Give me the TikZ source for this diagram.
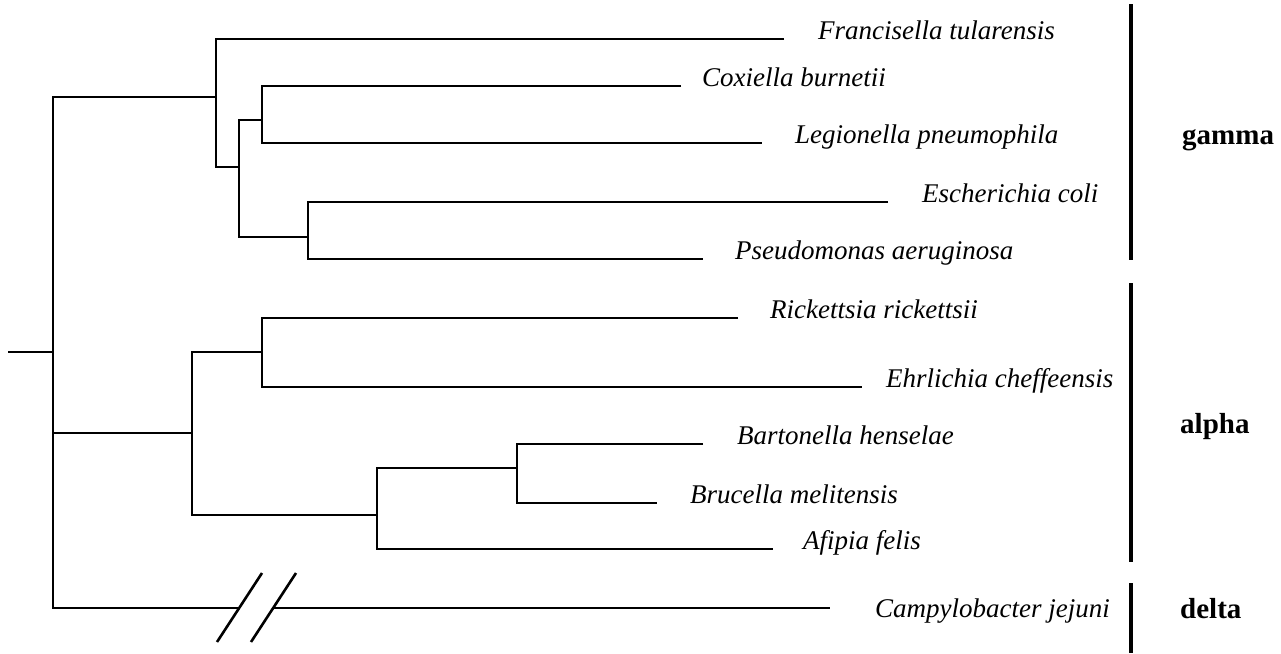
\documentclass[tikz,border=0pt]{standalone}
\usepackage{fontspec}
\setmainfont{Liberation Serif}
\begin{document}
\begin{tikzpicture}[x=1pt,y=-1pt,
  br/.style={line width=2.6pt, line join=miter},
  bar/.style={line width=4.2pt},
  lab/.style={anchor=base west, inner sep=0pt, font=\fontsize{27}{30}\selectfont\itshape},
  grp/.style={anchor=base west, inner sep=0pt, font=\fontsize{29}{32}\selectfont\bfseries}]
\useasboundingbox (0,0) rectangle (1281,653);
% internal nodes
\coordinate (Rstub) at (8,352);
\coordinate (R) at (53,352);
\coordinate (G) at (216,97);
\coordinate (G1) at (239,167);
\coordinate (G2) at (262,120);
\coordinate (G3) at (308,237);
\coordinate (A) at (192,433);
\coordinate (A1) at (262,352);
\coordinate (A2) at (377,515);
\coordinate (A3) at (517,468);
% tips
\coordinate (tFr) at (784,39);
\coordinate (tCo) at (681,86);
\coordinate (tLe) at (762,143);
\coordinate (tEc) at (888,202);
\coordinate (tPs) at (703,259);
\coordinate (tRi) at (738,318);
\coordinate (tEh) at (862,387);
\coordinate (tBa) at (703,444);
\coordinate (tBr) at (657,503);
\coordinate (tAf) at (773,549);
\coordinate (tCa) at (830,608);
\coordinate (brk1) at (239,608);
\coordinate (brk2) at (273,608);
\coordinate (s1a) at (217,642);
\coordinate (s1b) at (262,573);
\coordinate (s2a) at (251,642);
\coordinate (s2b) at (296,573);
% tree
\draw[br] (Rstub) -- (R);
\draw[br] (G) -- (G -| R) -- (R |- tCa) -- (brk1);
\draw[br] (R |- A) -- (A);
\draw[br] (tFr) -- (tFr -| G) -- (G1 -| G) -- (G1);
\draw[br] (G2) -- (G2 -| G1) -- (G3 -| G1) -- (G3);
\draw[br] (tCo) -- (tCo -| G2) -- (tLe -| G2) -- (tLe);
\draw[br] (tEc) -- (tEc -| G3) -- (tPs -| G3) -- (tPs);
\draw[br] (A1) -- (A1 -| A) -- (A2 -| A) -- (A2);
\draw[br] (tRi) -- (tRi -| A1) -- (tEh -| A1) -- (tEh);
\draw[br] (A3) -- (A3 -| A2) -- (tAf -| A2) -- (tAf);
\draw[br] (tBa) -- (tBa -| A3) -- (tBr -| A3) -- (tBr);
\draw[br] (brk2) -- (tCa);
\draw[br] (s1a) -- (s1b);
\draw[br] (s2a) -- (s2b);
% labels
\node[lab] (Fr) at (818,39) {Francisella tularensis};
\node[lab] (Co) at (702,86) {Coxiella burnetii};
\node[lab] (Le) at (795,143) {Legionella pneumophila};
\node[lab] (Ec) at (922,202) {Escherichia coli};
\node[lab] (Ps) at (735,259) {Pseudomonas aeruginosa};
\node[lab] (Ri) at (770,318) {Rickettsia rickettsii};
\node[lab] (Eh) at (886,387) {Ehrlichia cheffeensis};
\node[lab] (Ba) at (737,444) {Bartonella henselae};
\node[lab] (Br) at (690,503) {Brucella melitensis};
\node[lab] (Af) at (803,549) {Afipia felis};
\node[lab] (Ca) at (875,617) {Campylobacter jejuni};
% group bars
\coordinate (gb1) at (1131,4);   \coordinate (gb2) at (1131,260);
\coordinate (ab1) at (1131,283); \coordinate (ab2) at (1131,562);
\coordinate (db1) at (1131,583); \coordinate (db2) at (1131,653);
\draw[bar] (gb1) -- (gb2);
\draw[bar] (ab1) -- (ab2);
\draw[bar] (db1) -- (db2);
\node[grp] (gam) at (1182,144) {gamma};
\node[grp] (alp) at (1180,433) {alpha};
\node[grp] (del) at (1180,618) {delta};
\end{tikzpicture}
\end{document}
